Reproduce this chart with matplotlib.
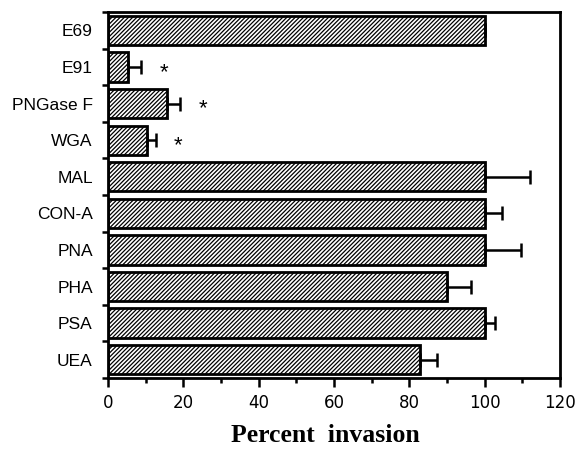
import numpy as np
import matplotlib
matplotlib.use("Agg")
import matplotlib.pyplot as plt

# treatments, top to bottom
labels = ["E69", "E91", "PNGase F", "WGA", "MAL", "CON-A", "PNA", "PHA", "PSA", "UEA"]
invasion = [100, 5.4, 15.6, 10.3, 100, 100, 100, 90, 100, 82.8]
err_up = [0, 3.4, 3.5, 2.4, 12, 4.6, 9.6, 6.4, 2.8, 4.6]
significant = [False, True, True, True, False, False, False, False, False, False]

plt.rcParams["hatch.linewidth"] = 0.9

fig = plt.figure(figsize=(5.78, 4.59), dpi=100)
ax = fig.add_axes([0.1869, 0.1765, 0.782, 0.797])

y = np.arange(len(labels))
vals = np.array(invasion)
errs = np.array(err_up)

ax.barh(y, vals, height=0.8, color="white", edgecolor="black",
        linewidth=2, hatch="////////", zorder=2)
ax.errorbar(vals, y, xerr=[np.zeros_like(errs), errs], fmt="none",
            ecolor="black", elinewidth=1.8, capsize=5, capthick=1.8, zorder=3)

# asterisks for significant differences
for yi, v, e, s in zip(y, vals, errs, significant):
    if s:
        ax.text(v + e + 6, yi + 0.15, "*", ha="center", va="center",
                fontsize=16, family="Liberation Sans")

ax.set_xlim(0, 120)
ax.set_ylim(9.5, -0.5)

ax.set_xticks(np.arange(0, 121, 20))
ax.set_xticks(np.arange(10, 120, 20), minor=True)
ax.set_yticks(y)
ax.set_yticklabels(labels)
ax.set_yticks(np.arange(-0.5, 10, 1), minor=True)

ax.tick_params(axis="y", which="major", length=0, pad=11, labelsize=12.5)
ax.tick_params(axis="y", which="minor", length=4, width=1.8, direction="out")
ax.tick_params(axis="x", which="major", length=6.5, width=1.8, direction="out", pad=5, labelsize=12)
ax.tick_params(axis="x", which="minor", length=3.5, width=1.8, direction="out")

for lbl in ax.get_yticklabels():
    lbl.set_family("Liberation Sans")
for lbl in ax.get_xticklabels():
    lbl.set_family("DejaVu Sans")

for sp in ax.spines.values():
    sp.set_linewidth(2)

ax.set_xlabel("Percent  invasion", family="Liberation Serif", fontweight="bold",
              fontsize=18.5)
ax.xaxis.set_label_coords(0.48, -0.125)

fig.savefig("out.png", dpi=100)
